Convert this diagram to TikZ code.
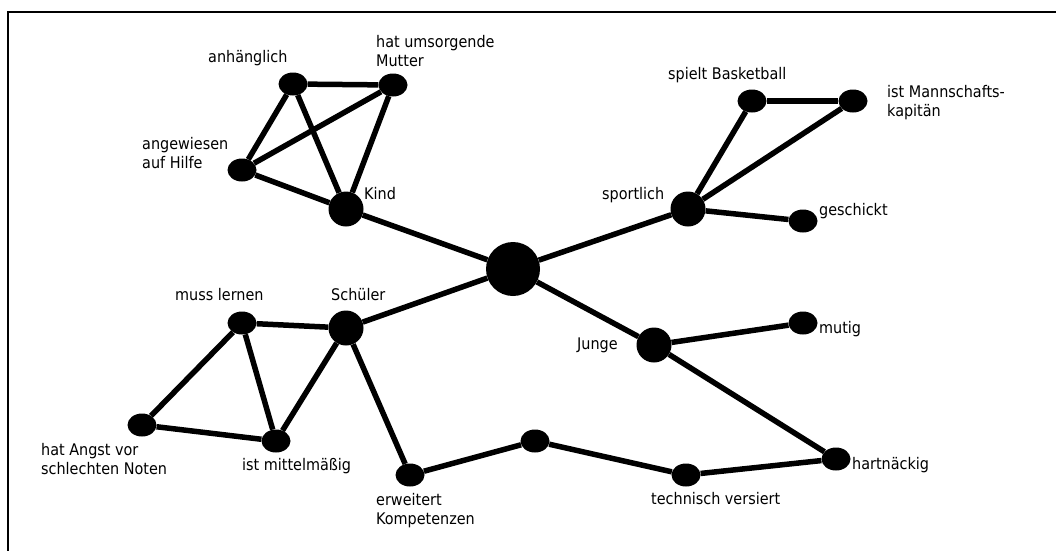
\documentclass[tikz,border=0pt]{standalone}
\usepackage{fontspec}
\setmainfont{DejaVu Sans Condensed}
\usetikzlibrary{shapes.geometric}
\tikzset{
  big/.style={circle,fill=black,inner sep=0pt,minimum size=54pt},
  mid/.style={circle,fill=black,inner sep=0pt,minimum size=35pt},
  sml/.style={ellipse,fill=black,inner sep=0pt,minimum width=29pt,minimum height=23pt},
  lab/.style={anchor=north west,inner sep=0pt,align=left,font=\fontsize{16}{19}\selectfont},
  link/.style={line width=5.5pt}
}
\begin{document}
\begin{tikzpicture}[x=1pt,y=-1pt]
\useasboundingbox (0,0) rectangle (1056,550);
\draw[line width=2pt] (7.5,551) -- (7.5,12) -- (1057,12);
% nodes
\node[big] (c) at (513,269) {};
\node[mid] (kind) at (346,209) {};
\node[sml] (anh) at (293,84) {};
\node[sml] (mut) at (393,85) {};
\node[sml] (ang) at (242,170) {};
\node[mid] (spo) at (688,209) {};
\node[sml] (bas) at (752,101) {};
\node[sml] (kap) at (853,101) {};
\node[sml] (ges) at (803,221) {};
\node[mid] (sch) at (346,328) {};
\node[sml] (mus) at (242,323) {};
\node[sml] (ang2) at (142,425) {};
\node[sml] (mit) at (276,441) {};
\node[sml] (erw) at (410,475) {};
\node[sml] (x) at (535,441) {};
\node[sml] (tec) at (686,475) {};
\node[sml] (har) at (836,459) {};
\node[mid] (jun) at (654,345) {};
\node[sml] (mti) at (803,323) {};
% edges
\draw[link] (anh) -- (mut);
\draw[link] (anh) -- (ang);
\draw[link] (anh) -- (kind);
\draw[link] (mut) -- (ang);
\draw[link] (mut) -- (kind);
\draw[link] (ang) -- (kind);
\draw[link] (kind) -- (c);
\draw[link] (c) -- (spo);
\draw[link] (spo) -- (bas);
\draw[link] (spo) -- (kap);
\draw[link] (bas) -- (kap);
\draw[link] (spo) -- (ges);
\draw[link] (c) -- (sch);
\draw[link] (sch) -- (mus);
\draw[link] (mus) -- (ang2);
\draw[link] (mus) -- (mit);
\draw[link] (sch) -- (mit);
\draw[link] (ang2) -- (mit);
\draw[link] (sch) -- (erw);
\draw[link] (erw) -- (x);
\draw[link] (x) -- (tec);
\draw[link] (tec) -- (har);
\draw[link] (c) -- (jun);
\draw[link] (jun) -- (mti);
\draw[link] (jun) -- (har);
% labels
\node[lab] (l1) at (208,50) {anhänglich};
\node[lab] (l2) at (376,35) {hat umsorgende\\Mutter};
\node[lab] (l3) at (142,137) {angewiesen\\auf Hilfe};
\node[lab] (l4) at (364,187) {Kind};
\node[lab] (l5) at (668,67) {spielt Basketball};
\node[lab] (l6) at (887,85) {ist Mannschafts-\\kapitän};
\node[lab] (l7) at (602,187) {sportlich};
\node[lab] (l8) at (819,203) {geschickt};
\node[lab] (l9) at (175,288) {muss lernen};
\node[lab] (l10) at (331,288) {Schüler};
\node[lab] (l11) at (41,443) {hat Angst vor\\schlechten Noten};
\node[lab] (l12) at (242,458) {ist mittelmäßig};
\node[lab] (l13) at (376,493) {erweitert\\Kompetenzen};
\node[lab] (l14) at (577,338) {Junge};
\node[lab] (l15) at (819,321) {mutig};
\node[lab] (l16) at (852,457) {hartnäckig};
\node[lab] (l17) at (651,492) {technisch versiert};
\end{tikzpicture}
\end{document}
